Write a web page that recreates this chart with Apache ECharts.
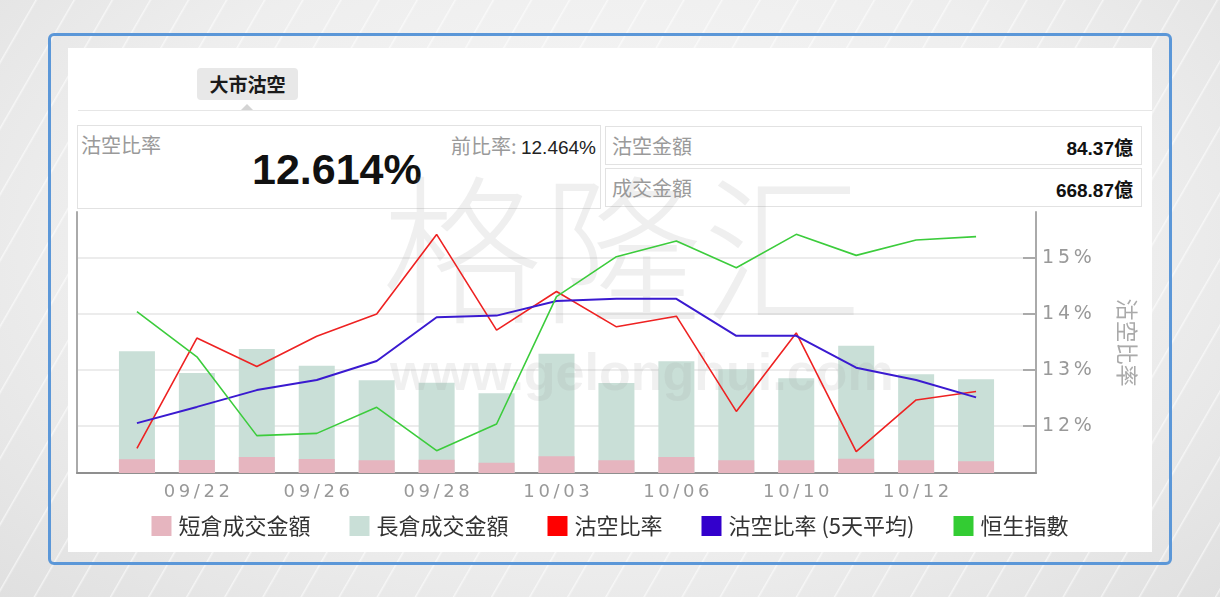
<!DOCTYPE html>
<html>
<head>
<meta charset="utf-8">
<script src="https://cdn.jsdelivr.net/npm/echarts@6/dist/echarts.min.js"></script>
<style>
  body { margin:0; width:1220px; height:597px; overflow:hidden; position:relative;
    font-family:"Noto Sans CJK TC","Liberation Sans",sans-serif;
    background:
      repeating-linear-gradient(120deg, rgba(255,255,255,0) 0px, rgba(255,255,255,0) 30px, rgba(255,255,255,0.6) 31px, rgba(255,255,255,0) 33px),
      radial-gradient(ellipse at 50% 40%, #f8f8f8 0%, #eeeeee 60%, #e0e0e0 100%);
  }
  #frame { position:absolute; left:48px; top:33px; width:1118px; height:526px;
    border:3px solid #5b97d8; border-radius:6px; }
  #panel { position:absolute; left:68px; top:48px; width:1084px; height:504px; background:#fff; }
  #tab { position:absolute; left:197px; top:68px; width:101px; height:32px; background:#e8e8e8;
    border-radius:4px; font-weight:bold; font-size:19px; color:#1a1a1a; text-align:center; line-height:32px; }
  #tri { position:absolute; left:241px; top:104px; width:0; height:0;
    border-left:6px solid transparent; border-right:6px solid transparent; border-bottom:6px solid #d4d4d4; }
  #hr { position:absolute; left:78px; top:110px; width:1074px; height:1px; background:#e6e6e6; }
  .box { position:absolute; border:1px solid #e2e2e2; background:#fff; }
  .lbl { position:absolute; color:#9a9a9a; font-size:20px; }
  #b1 { left:77px; top:125px; width:522px; height:82px; }
  #b2 { left:605px; top:126px; width:535px; height:37px; }
  #b3 { left:605px; top:168px; width:535px; height:37px; }
  .num { position:absolute; right:8px; top:6px; font-weight:bold; font-size:19px; color:#111; font-family:"Liberation Sans","Noto Sans CJK TC",sans-serif; }
  #chart { position:absolute; left:0; top:0; width:1220px; height:597px; }
</style>
</head>
<body>
<div id="frame"></div>
<div id="panel"></div>
<div id="tab">大市沽空</div>
<div id="tri"></div>
<div id="hr"></div>
<div class="box" id="b1">
  <div class="lbl" style="left:3px;top:4px;">沽空比率</div>
  <div style="position:absolute;right:4px;top:5px;font-size:20px;color:#9a9a9a;">前比率: <span style="color:#222;font-size:19px;font-family:'Liberation Sans',sans-serif;">12.464%</span></div>
  <div style="position:absolute;left:174px;top:19px;font-size:43px;font-weight:bold;color:#111;font-family:'Liberation Sans',sans-serif;">12.614%</div>
</div>
<div class="box" id="b2"><div class="lbl" style="left:6px;top:4px;">沽空金額</div><div class="num">84.37億</div></div>
<div class="box" id="b3"><div class="lbl" style="left:6px;top:4px;">成交金額</div><div class="num">668.87億</div></div>
<div id="chart"></div>
<script>
var dates = ['09/21','09/22','09/25','09/26','09/27','09/28','09/29','10/03','10/04','10/06','10/09','10/10','10/11','10/12','10/13'];
var labelIdx = [1,3,5,7,9,11,13];
// 億
var shortAmt = [97.5, 92.5, 114, 100, 90, 95, 73, 119, 90, 114, 90, 90, 102, 90, 84.37];
var longAmt  = [771, 621, 769, 664, 571, 548, 496, 730, 552, 683, 650, 586, 804, 614, 584.5];
// %
var ratio    = [11.60, 13.57, 13.06, 13.60, 14.00, 15.42, 13.71, 14.40, 13.77, 13.96, 12.26, 13.66, 11.54, 12.464, 12.614];
var ratioAvg = [12.05, 12.34, 12.64, 12.82, 13.16, 13.94, 13.97, 14.23, 14.27, 14.27, 13.61, 13.61, 13.04, 12.82, 12.51];
var hsi      = [28139, 27899, 27479, 27491, 27630, 27399, 27541, 28219, 28432, 28516, 28373, 28551, 28439, 28521, 28539];
var pctTicks = [12, 13, 14, 15];

function pairs(arr){ return arr.map(function(v,i){ return [i, v]; }); }
function spaced(s){ return s.split('').join('\u2009'); }
// long sits on top of short: draw the full bar, then overlay the short part
var totalAmt = longAmt.map(function(v,i){ return v + shortAmt[i]; });

var chart = echarts.init(document.getElementById('chart'));
var option = {
  backgroundColor: 'transparent',
  animation: false,
  textStyle: { fontFamily: '"Noto Sans CJK TC","Liberation Sans",sans-serif' },
  grid: { left: 77, right: 184, top: 212, bottom: 124 },
  legend: {
    bottom: 55, left: 'center', icon: 'rect', itemWidth: 20, itemHeight: 20, itemGap: 39,
    textStyle: { fontSize: 22, color: '#333', padding: [0,0,0,2] },
    data: ['短倉成交金額','長倉成交金額','沽空比率','沽空比率 (5天平均)','恒生指數']
  },
  graphic: [
    { type: 'text', left: 382, top: 170, z: 3, silent: true,
      style: { text: '格隆汇', font: '300 160px "Noto Sans CJK SC"', fill: 'rgba(150,150,150,0.15)' } },
    { type: 'text', left: 390, top: 350, z: 3, silent: true,
      style: { text: 'www.gelonghui.com', font: 'bold 52px "Liberation Sans"', fill: 'rgba(160,160,160,0.16)' } }
  ],
  xAxis: {
    type: 'value', min: -1, max: 15,
    axisLine: { lineStyle: { color: '#8f8f8f', width: 2 } },
    axisTick: { show: false },
    splitLine: { show: false },
    axisLabel: {
      customValues: labelIdx, margin: 10, color: '#999', fontSize: 18,
      fontFamily: 'DejaVu Sans',
      formatter: function(v){ return spaced(dates[v]); }
    }
  },
  yAxis: [
    { type: 'value', position: 'left', min: 0, max: 1860,
      axisLine: { show: true, onZero: false, lineStyle: { color: '#aaa', width: 2 } },
      axisTick: { show: false }, axisLabel: { show: false }, splitLine: { show: false } },
    { type: 'value', position: 'right', min: 11.16, max: 15.82,
      name: '沽空比率', nameLocation: 'middle', nameGap: 80, nameRotate: -90,
      nameTextStyle: { color: '#aaa', fontSize: 22 },
      axisLine: { show: true, onZero: false, lineStyle: { color: '#aaa', width: 2 } },
      axisTick: { show: true, inside: true, length: 13, customValues: pctTicks, lineStyle: { color: '#aaa', width: 2 } },
      axisLabel: { customValues: pctTicks, margin: 6, color: '#999', fontSize: 19, fontFamily: 'DejaVu Sans',
        formatter: function(v){ return spaced(v + '%'); } },
      splitLine: { show: true, lineStyle: { color: '#e6e6e6', width: 1.5 } } },
    { type: 'value', show: false, min: 27280, max: 28670 }
  ],
  series: [
    { name: '長倉成交金額', type: 'bar', yAxisIndex: 0, barWidth: 36, barGap: '-100%', z: 2,
      itemStyle: { color: '#c9dfd7' }, data: pairs(totalAmt) },
    { name: '短倉成交金額', type: 'bar', yAxisIndex: 0, barWidth: 36, barGap: '-100%', z: 2,
      itemStyle: { color: '#e6b5bf' }, data: pairs(shortAmt) },
    { name: '沽空比率', type: 'line', yAxisIndex: 1, symbol: 'none', z: 4,
      itemStyle: { color: '#ff0000' }, lineStyle: { color: '#ee2222', width: 1.6 }, data: pairs(ratio) },
    { name: '沽空比率 (5天平均)', type: 'line', yAxisIndex: 1, symbol: 'none', z: 4,
      itemStyle: { color: '#3300cc' }, lineStyle: { color: '#3a1ad0', width: 2 }, data: pairs(ratioAvg) },
    { name: '恒生指數', type: 'line', yAxisIndex: 2, symbol: 'none', z: 4,
      itemStyle: { color: '#33cc33' }, lineStyle: { color: '#3ccc3c', width: 1.6 }, data: pairs(hsi) }
  ]
};
chart.setOption(option);
</script>
</body>
</html>
